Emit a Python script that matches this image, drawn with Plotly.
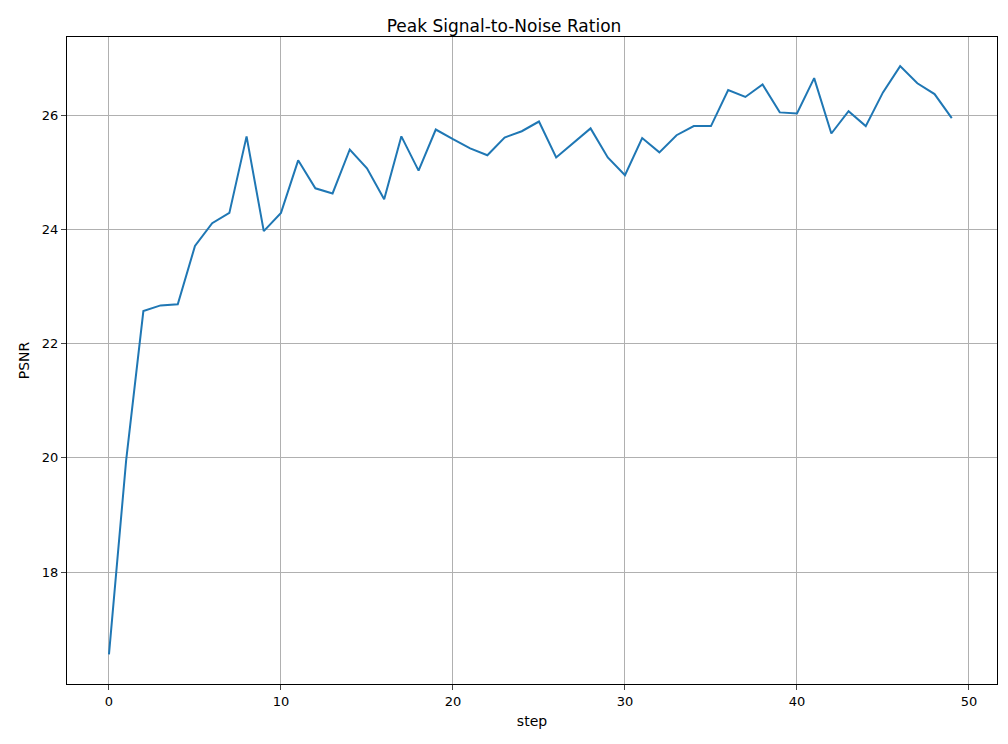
import plotly.graph_objects as go

steps = list(range(50))
psnr = [16.56, 19.96, 22.57, 22.67, 22.69, 23.71, 24.11, 24.29, 25.63, 23.97,
        24.29, 25.21, 24.72, 24.63, 25.40, 25.07, 24.53, 25.63, 25.03, 25.75,
        25.58, 25.42, 25.30, 25.61, 25.72, 25.89, 25.26, 25.51, 25.77, 25.26,
        24.95, 25.60, 25.35, 25.65, 25.81, 25.81, 26.44, 26.32, 26.54, 26.05,
        26.03, 26.65, 25.68, 26.07, 25.81, 26.40, 26.86, 26.56, 26.37, 25.95]

fig = go.Figure(go.Scatter(x=steps, y=psnr, mode="lines",
                           line=dict(color="#1f77b4", width=2)))

axis = dict(showline=True, linecolor="black", mirror=True, ticks="outside",
            ticklen=5, gridcolor="#b0b0b0", zeroline=False, automargin=False,
            tickfont=dict(size=13, color="black"))
fig.update_layout(
    width=992, height=728, plot_bgcolor="white", paper_bgcolor="white",
    margin=dict(l=59, r=3, t=29, b=52),
    font=dict(family="DejaVu Sans", color="black"),
    title=dict(text="Peak Signal-to-Noise Ration", x=0.5, xanchor="center",
               y=0.984, yanchor="top", font=dict(size=17)),
    xaxis=dict(axis, range=[-2.44, 51.63], dtick=10,
               title=dict(text="step", font=dict(size=14), standoff=8)),
    yaxis=dict(axis, range=[16.04, 27.37], dtick=2,
               title=dict(text="PSNR", font=dict(size=14), standoff=8)),
    showlegend=False,
)
fig.write_html("out.html")
